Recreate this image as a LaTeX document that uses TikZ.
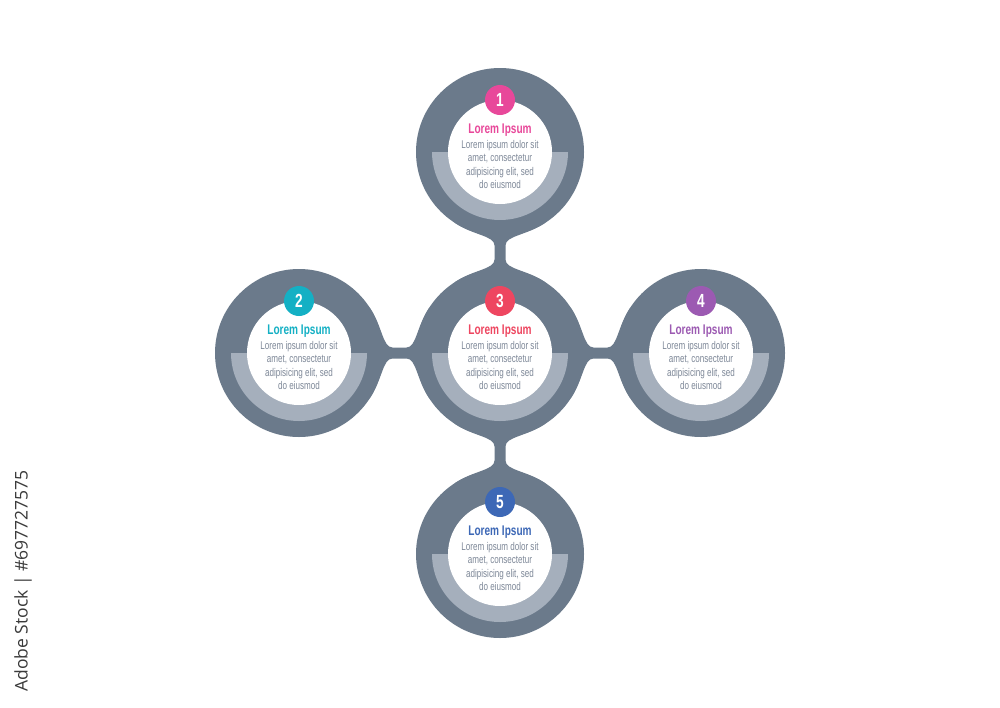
\documentclass[tikz,border=0pt]{standalone}
\usepackage{fontspec}
\setmainfont{Liberation Sans}
\newfontfamily\condfont[FakeStretch=0.72]{Liberation Sans}
\newfontfamily\stockfont{Open Sans}
\usetikzlibrary{positioning}

\definecolor{ringgray}{HTML}{6B7A8B}
\definecolor{bandgray}{HTML}{A5AFBC}
\definecolor{bodygray}{HTML}{7E8898}
\definecolor{stockgray}{HTML}{3A3A3A}
\definecolor{pinkone}{HTML}{E8489A}
\definecolor{cyantwo}{HTML}{14B0C4}
\definecolor{redthree}{HTML}{EE4660}
\definecolor{purplefour}{HTML}{9C5AB2}
\definecolor{bluefive}{HTML}{3D68B6}

\tikzset{
  badge/.style={circle, minimum size=30pt, inner sep=0pt, text=white,
    font=\condfont\bfseries\fontsize{19}{19}\selectfont},
  heading/.style={anchor=base, inner sep=0pt,
    font=\condfont\bfseries\fontsize{14}{14}\selectfont},
  bodytext/.style={align=center, inner sep=0pt, text=bodygray,
    font=\condfont\fontsize{11.2}{13.3}\selectfont},
}

% one round step: name, x, y, colour, number
\newcommand{\infostep}[5]{%
  \fill[ringgray] (#2,#3) circle (84);
  \fill[bandgray] (#2+68,#3) arc[start angle=0, end angle=180, radius=68] -- cycle;
  \fill[white] (#2,#3) circle (52);
  \node[badge, fill=#4] (num#1) at (#2,#3-52) {#5};
  \node[heading, text=#4] (title#1) at (#2,#3-18.5) {Lorem Ipsum};
  \node[bodytext] (text#1) at (#2,#3+12.5) {Lorem ipsum dolor sit\\amet, consectetur\\adipisicing elit, sed\\do eiusmod};
}

% neck between two circles: x, y of the middle, rotation
\newcommand{\drawneck}[3]{%
  \fill[ringgray, shift={(#1,#2)}, rotate=#3]
    (-46,-30.2) .. controls (-27,-17) and (-5.5,-17) .. (-5.5,-7)
    -- (-5.5,7) .. controls (-5.5,17) and (-27,17) .. (-46,30.2)
    -- (46,30.2) .. controls (27,17) and (5.5,17) .. (5.5,7)
    -- (5.5,-7) .. controls (5.5,-17) and (27,-17) .. (46,-30.2)
    -- cycle;
}

\begin{document}
\begin{tikzpicture}[x=1pt,y=-1pt]

  % Page frame
  \useasboundingbox (0,0) rectangle (1000,707);
  \fill[white] (0,0) rectangle (1000,707);

  % Necks between the circles
  \drawneck{500}{252.5}{0}
  \drawneck{500}{453.5}{0}
  \drawneck{399.5}{353}{90}
  \drawneck{600.5}{353}{90}

  % The five steps
  \infostep{1}{500}{152}{pinkone}{1}
  \infostep{2}{299}{353}{cyantwo}{2}
  \infostep{3}{500}{353}{redthree}{3}
  \infostep{4}{701}{353}{purplefour}{4}
  \infostep{5}{500}{554}{bluefive}{5}

  % Side label
  \node[rotate=90, text=stockgray, font=\stockfont\fontsize{17.5}{17.5}\selectfont] (stock) at (23,581) {Adobe Stock | \#697727575};

\end{tikzpicture}
\end{document}
